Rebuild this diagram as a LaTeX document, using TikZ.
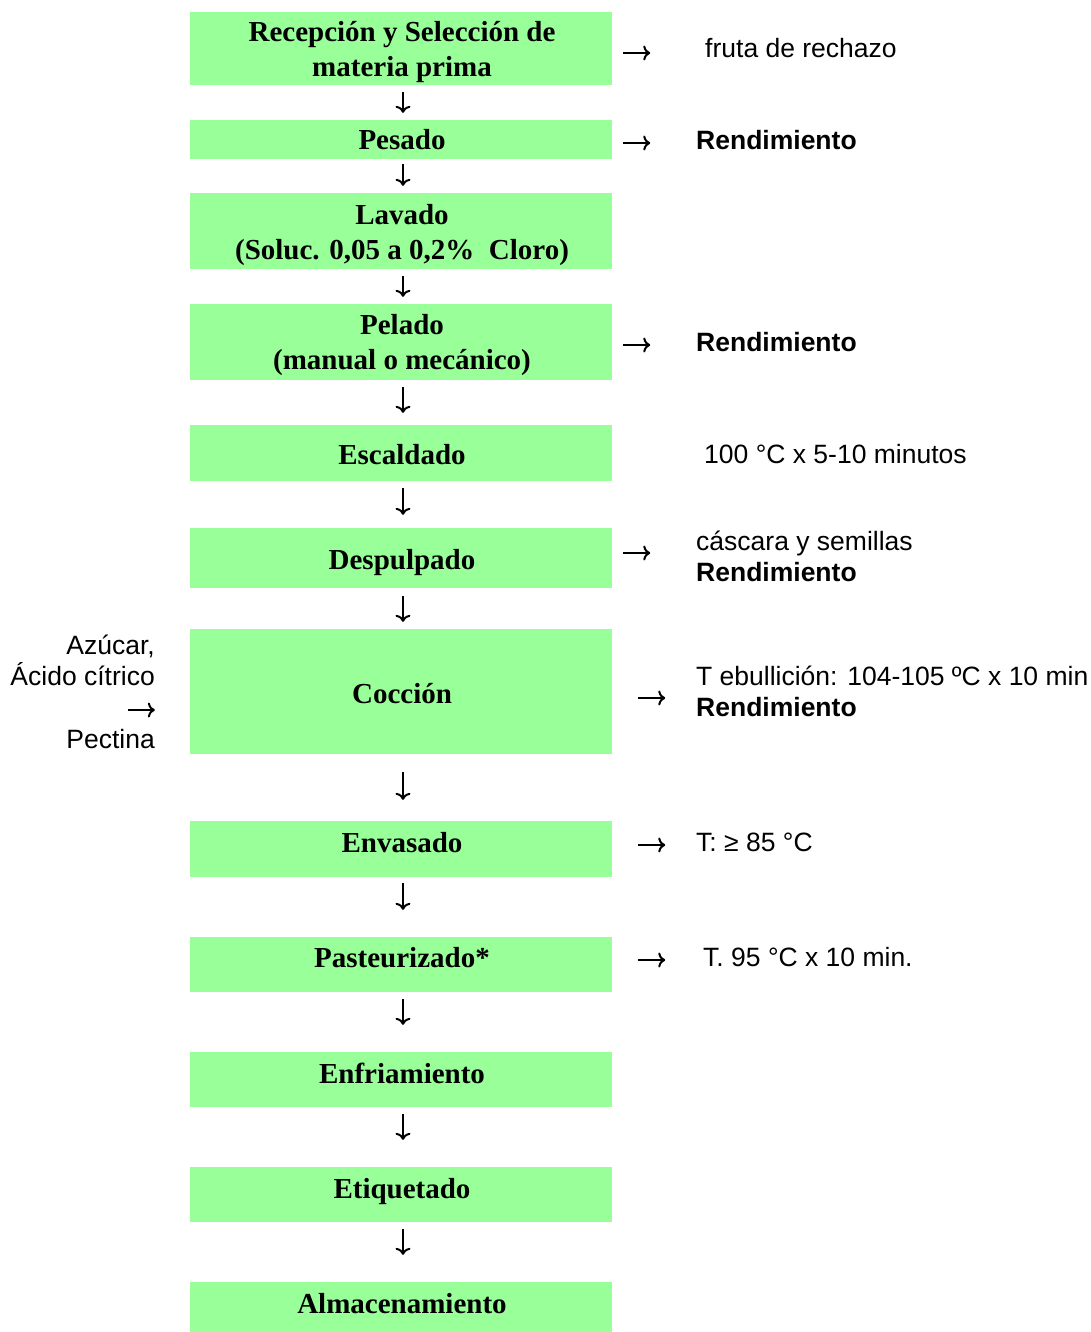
\documentclass[tikz,border=0pt]{standalone}
\usepackage{fontspec}
\setmainfont{Liberation Serif}
\newfontfamily\arialfont{Liberation Sans}
\usetikzlibrary{calc,arrows.meta}
\definecolor{boxgreen}{RGB}{153,255,153}
\begin{document}
\begin{tikzpicture}[x=1pt,y=-1pt,
  box/.style={fill=boxgreen,draw=none,inner sep=0pt,minimum width=422pt},
  stepname/.style={font=\fontsize{29}{35}\selectfont\bfseries,inner sep=0pt,align=center,anchor=base},
  side/.style={font=\arialfont\fontsize{26.5}{31}\selectfont,inner sep=0pt,anchor=base west,align=left},
  flow/.style={line width=2pt,-{To[length=7pt,width=15pt]}}]
\useasboundingbox (0,0) rectangle (1090,1332);
% boxes
\node[box,minimum height=73pt]  (b1)  at (401,48.5)  {};
\node[box,minimum height=39pt]  (b2)  at (401,139.5) {};
\node[box,minimum height=76pt]  (b3)  at (401,231)   {};
\node[box,minimum height=76pt]  (b4)  at (401,342)   {};
\node[box,minimum height=56pt]  (b5)  at (401,453)   {};
\node[box,minimum height=60pt]  (b6)  at (401,558)   {};
\node[box,minimum height=125pt] (b7)  at (401,691.5) {};
\node[box,minimum height=56pt]  (b8)  at (401,849)   {};
\node[box,minimum height=55pt]  (b9)  at (401,964.5) {};
\node[box,minimum height=55pt]  (b10) at (401,1079.5) {};
\node[box,minimum height=55pt]  (b11) at (401,1194.5) {};
\node[box,minimum height=50pt]  (b12) at (401,1307)  {};
% step texts (base = baseline of last line)
\node[stepname] (t1)  at (402,77)   {Recepción y Selección de\\materia prima};
\node[stepname] (t2)  at (402,150)  {Pesado};
\node[stepname] (t3)  at (402,259)  {Lavado\\(Soluc. 0,05 a 0,2\%\ \ Cloro)};
\node[stepname] (t4)  at (402,369)  {Pelado\\(manual o mecánico)};
\node[stepname] (t5)  at (402,464)  {Escaldado};
\node[stepname] (t6)  at (402,569)  {Despulpado};
\node[stepname] (t7)  at (402,703)  {Cocción};
\node[stepname] (t8)  at (402,852)  {Envasado};
\node[stepname] (t9)  at (402,967)  {Pasteurizado*};
\node[stepname] (t10) at (402,1083) {Enfriamiento};
\node[stepname] (t11) at (402,1198) {Etiquetado};
\node[stepname] (t12) at (402,1313) {Almacenamiento};
% side texts
\node[side] (s1) at (705,57.5)  {fruta de rechazo};
\node[side] (s2) at (696,149.5) {\textbf{Rendimiento}};
\node[side] (s4) at (696,351.5) {\textbf{Rendimiento}};
\node[side] (s5) at (704,463)   {100 °C x 5-10 minutos};
\node[side] (s6) at (696,581.5) {cáscara y semillas\\\textbf{Rendimiento}};
\node[side] (s7) at (696,716)   {T ebullición: 104-105 ºC x 10 min\\\textbf{Rendimiento}};
\node[side] (s8) at (696,851)   {T: ≥ 85 °C};
\node[side] (s9) at (703,966)   {T. 95 °C x 10 min.};
\node[side,anchor=base east,align=right] (l1) at (155,685) {Azúcar,\\Ácido cítrico};
\node[side,anchor=base east] (l2) at (155,748) {Pectina};
% down arrows
\draw[flow] ($(b1.south)+(2,7)$)  -- ($(b2.north)+(2,-7)$);
\draw[flow] ($(b2.south)+(2,5)$)  -- ($(b3.north)+(2,-7)$);
\draw[flow] ($(b3.south)+(2,7)$)  -- ($(b4.north)+(2,-7)$);
\draw[flow] ($(b4.south)+(2,7)$)  -- ($(b5.north)+(2,-12)$);
\draw[flow] ($(b5.south)+(2,7)$)  -- ($(b6.north)+(2,-13)$);
\draw[flow] ($(b6.south)+(2,8)$)  -- ($(b7.north)+(2,-7)$);
\draw[flow] ($(b7.south)+(2,18)$) -- ($(b8.north)+(2,-21)$);
\draw[flow] ($(b8.south)+(2,6)$)  -- ($(b9.north)+(2,-27)$);
\draw[flow] ($(b9.south)+(2,7)$)  -- ($(b10.north)+(2,-27)$);
\draw[flow] ($(b10.south)+(2,7)$) -- ($(b11.north)+(2,-27)$);
\draw[flow] ($(b11.south)+(2,7)$) -- ($(b12.north)+(2,-27)$);
% side arrows
\draw[flow] ($(b1.east)+(11,4.5)$) -- ++(27,0);
\draw[flow] ($(b2.east)+(11,3.5)$) -- ++(27,0);
\draw[flow] ($(b4.east)+(11,3)$)   -- ++(27,0);
\draw[flow] ($(b6.east)+(11,-5)$)  -- ++(27,0);
\draw[flow] ($(b7.east)+(26,6.5)$) -- ++(27,0);
\draw[flow] ($(b8.east)+(26,-4)$)  -- ++(27,0);
\draw[flow] ($(b9.east)+(26,-4.5)$) -- ++(27,0);
\draw[flow] ($(b7.west)+(-62,18.5)$) -- ++(27,0);
\end{tikzpicture}
\end{document}
